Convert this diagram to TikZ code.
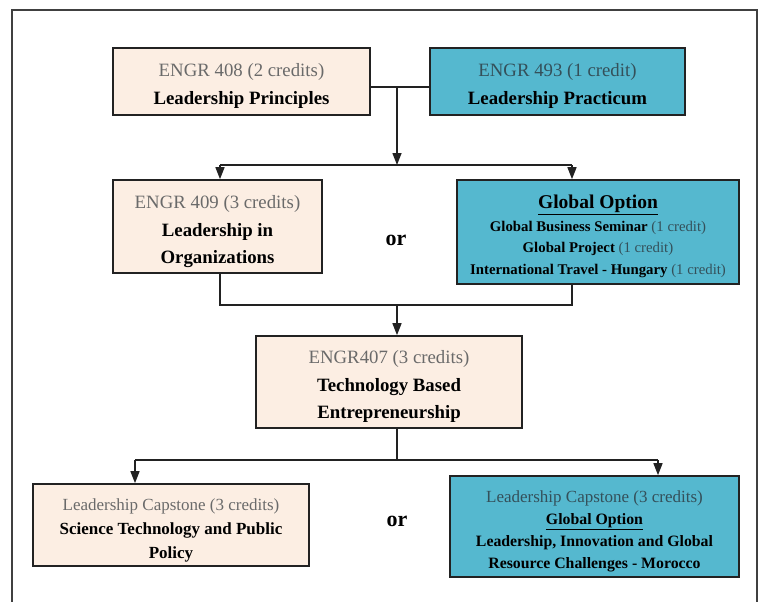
\documentclass[tikz,border=0pt]{standalone}
\usepackage{fontspec}
\setmainfont{Liberation Serif}
\usetikzlibrary{arrows.meta}
\definecolor{beige}{HTML}{FCEEE3}
\definecolor{teal2}{HTML}{55B8CF}
\definecolor{graytxt}{HTML}{6A6A6A}
\definecolor{graytxt2}{HTML}{34505A}
\definecolor{edge}{HTML}{222222}
\begin{document}
\begin{tikzpicture}[x=1pt,y=-1pt,
  box/.style={draw=edge,line width=1.6pt,inner sep=0pt},
  beigebox/.style={box,fill=beige},
  tealbox/.style={box,fill=teal2},
  boxtext/.style={align=center,inner sep=0pt,font=\fontsize{18.8}{27.5}\selectfont},
  conn/.style={draw=edge,line width=1.4pt},
  arr/.style={conn,-{Triangle[length=12pt,width=9pt]}},
  ortext/.style={font=\fontsize{22}{24}\selectfont\bfseries}
]
\useasboundingbox (0,0) rectangle (763,602);
\draw[line width=1.5pt,draw=black!75] (12,602) -- (12,10) -- (757,10) -- (757,602);

\node[beigebox,minimum width=257pt,minimum height=67pt] (A) at (241.5,81.5) {};
\node[boxtext] (At) at ([yshift=-4.5pt]A.center)
  {\textcolor{graytxt}{ENGR 408 (2 credits)}\\\textbf{Leadership Principles}};
\node[tealbox,minimum width=255pt,minimum height=67pt] (B) at (557.5,81.5) {};
\node[boxtext] (Bt) at ([yshift=-4.5pt]B.center)
  {\textcolor{graytxt2}{ENGR 493 (1 credit)}\\\textbf{Leadership Practicum}};

\node[beigebox,minimum width=209pt,minimum height=93pt] (C) at (217.5,226.5) {};
\node[boxtext] (Ct) at ([yshift=-5.5pt]C.center)
  {\textcolor{graytxt}{ENGR 409 (3 credits)}\\\textbf{Leadership in}\\\textbf{Organizations}};
\node[ortext] (or1) at (396,240) {or};
\node[tealbox,minimum width=282pt,minimum height=104pt] (D) at (598,232) {};
\node[boxtext,font=\fontsize{14.8}{21.5}\selectfont] (Dt) at ([yshift=-4.5pt]D.center)
  {{\fontsize{19.5}{24}\selectfont\bfseries\underline{Global Option}}\\[1pt]
   \textbf{Global Business Seminar} \textcolor{graytxt2}{(1 credit)}\\
   \textbf{Global Project} \textcolor{graytxt2}{(1 credit)}\\
   \textbf{International Travel - Hungary} \textcolor{graytxt2}{(1 credit)}};

\node[beigebox,minimum width=266pt,minimum height=92pt] (E) at (389,382) {};
\node[boxtext] (Et) at ([yshift=-4.5pt]E.center)
  {\textcolor{graytxt}{ENGR407 (3 credits)}\\\textbf{Technology Based}\\\textbf{Entrepreneurship}};

\node[beigebox,minimum width=276pt,minimum height=82pt] (F) at (171,525) {};
\node[boxtext,font=\fontsize{17}{24}\selectfont] (Ft) at ([yshift=-5.5pt]F.center)
  {\textcolor{graytxt}{Leadership Capstone (3 credits)}\\\textbf{Science Technology and Public}\\\textbf{Policy}};
\node[ortext] (or2) at (397,521) {or};
\node[tealbox,minimum width=289pt,minimum height=101pt] (G) at (594.5,526.5) {};
\node[boxtext,font=\fontsize{15.8}{22}\selectfont] (Gt) at ([yshift=-5pt]G.center)
  {\textcolor{graytxt2}{\fontsize{17}{22}\selectfont Leadership Capstone (3 credits)}\\
   \textbf{\underline{Global Option}}\\
   \textbf{Leadership, Innovation and Global}\\
   \textbf{Resource Challenges - Morocco}};

% top connectors
\coordinate (j1) at (397,87);
\coordinate (j2) at (397,165);
\draw[conn] ([yshift=-5.5pt]A.east) -- ([yshift=-5.5pt]B.west);
\draw[arr] (j1) -- (j2);
\coordinate (cl) at (220,165);
\coordinate (cr) at (572,165);
\draw[conn] (cl) -- (cr);
\draw[arr] (cl) -- (cl |- C.north);
\draw[arr] (cr) -- (cr |- D.north);

% middle merge
\coordinate (ml) at (220,305);
\coordinate (mr) at (572,305);
\coordinate (j3) at (397,305);
\draw[conn] (ml |- C.south) -- (ml) -- (mr) -- (mr |- D.south);
\draw[arr] (j3) -- (j3 |- E.north);

% bottom split
\coordinate (j4) at (397,460);
\coordinate (bl) at (135,460);
\coordinate (br) at (658,460);
\draw[conn] (j4 |- E.south) -- (j4);
\draw[conn] (bl) -- (br);
\draw[arr] (bl) -- (bl |- F.north);
\draw[arr] (br) -- (br |- G.north);
\end{tikzpicture}
\end{document}
